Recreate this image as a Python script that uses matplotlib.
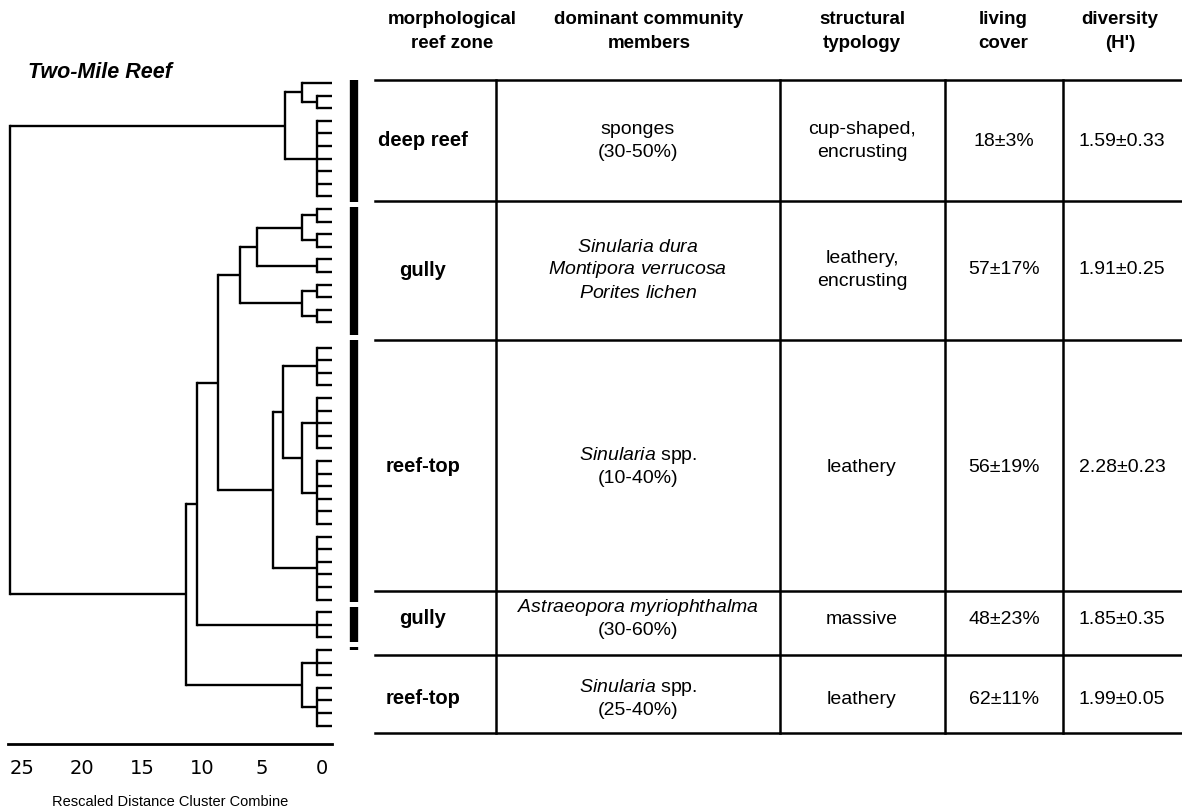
import matplotlib.pyplot as plt

plt.rcParams['font.family'] = ['Liberation Sans', 'DejaVu Sans']
plt.rcParams['mathtext.fontset'] = 'custom'
plt.rcParams['mathtext.it'] = 'Liberation Sans:italic'
plt.rcParams['mathtext.rm'] = 'Liberation Sans'

# ---- dendrogram data: leaves are row numbers, row 20 is empty ----
leaf_tip = -0.83
merges = {
    "a1": ([1, 2], 0.42),
    "a": ([0, "a1"], 1.67),
    "b": ([3, 4, 5, 6, 7, 8, 9], 0.42),
    "deep": (["a", "b"], 3.08),
    "c1": ([10, 11], 0.42),
    "c2": ([12, 13], 0.42),
    "c": (["c1", "c2"], 1.67),
    "c3": ([14, 15], 0.42),
    "cc": (["c", "c3"], 5.42),
    "d1": ([16, 17], 0.42),
    "d2": ([18, 19], 0.42),
    "d": (["d1", "d2"], 1.67),
    "gul": (["cc", "d"], 6.83),
    "e1": ([21, 22, 23, 24], 0.42),
    "e2": ([25, 26, 27, 28, 29], 0.42),
    "e3": ([30, 31, 32, 33, 34, 35], 0.42),
    "e23": (["e2", "e3"], 1.67),
    "e": (["e1", "e23"], 3.25),
    "f": ([36, 37, 38, 39, 40, 41], 0.42),
    "top": (["e", "f"], 4.08),
    "gt": (["gul", "top"], 8.67),
    "g": ([42, 43, 44], 0.42),
    "gtg": (["gt", "g"], 10.42),
    "h1": ([45, 46, 47], 0.42),
    "h2": ([48, 49, 50, 51], 0.42),
    "h": (["h1", "h2"], 1.67),
    "m": (["gtg", "h"], 11.33),
    "root": (["deep", "m"], 26.0),
}
# black group bars next to the leaves (row ranges)
group_bars = [(-0.25, 9.45), (9.85, 20.0), (20.4, 41.2), (41.6, 44.4), (44.75, 45.0)]
bar_pos = -2.7
dist_ticks = [25, 20, 15, 10, 5, 0]

# ---- table data ----
headers = ["morphological\nreef zone", "dominant community\nmembers",
           "structural\ntypology", "living\ncover", "diversity\n(H')"]
zones = ["deep reef", "gully", "reef-top", "gully", "reef-top"]
members = [
    ["sponges", "(30-50%)"],
    [r"$\it{Sinularia\ dura}$", r"$\it{Montipora\ verrucosa}$", r"$\it{Porites\ lichen}$"],
    [r"$\it{Sinularia}$ spp.", "(10-40%)"],
    [r"$\it{Astraeopora\ myriophthalma}$", "(30-60%)"],
    [r"$\it{Sinularia}$ spp.", "(25-40%)"],
]
typology = [["cup-shaped,", "encrusting"], ["leathery,", "encrusting"],
            ["leathery"], ["massive"], ["leathery"]]
cover = ["18±3%", "57±17%", "56±19%", "48±23%", "62±11%"]
diversity = ["1.59±0.33", "1.91±0.25", "2.28±0.23", "1.85±0.35", "1.99±0.05"]

# table layout (pixels)
row_lines = [80, 201, 340, 591, 655, 733]
col_lines = [496, 780, 945, 1063]
text_y = [141, 270, 467, 619, 699]
col_x = [423, 638, 862, 1004, 1122]
head_x = [452, 649, 862, 1003, 1120]

W, H = 1182, 811
fig = plt.figure(figsize=(W / 100, H / 100), dpi=100)

# -------------------------
# dendrogram
# -------------------------
ax = fig.add_axes([8 / W, 1 - 744 / H, 324 / W, 684 / H])
lw = 1.7


def draw(node):
    if isinstance(node, int):
        return node, leaf_tip
    kids, h = merges[node]
    ys = []
    for k in kids:
        y, x = draw(k)
        ax.plot([x, h], [y, y], color="black", lw=lw, solid_capstyle="butt")
        ys.append(y)
    ax.plot([h, h], [min(ys), max(ys)], color="black", lw=lw, solid_capstyle="projecting")
    return (min(ys) + max(ys)) / 2, h


draw("root")

for y0, y1 in group_bars:
    ax.plot([bar_pos, bar_pos], [y0, y1], color="black", lw=6, solid_capstyle="butt", clip_on=False)

ax.set_xlim(26.17, -0.833)
ax.set_ylim(52.46, -1.825)
for s in ["top", "left", "right"]:
    ax.spines[s].set_visible(False)
ax.spines["bottom"].set_linewidth(2)
ax.set_yticks([])
ax.set_xticks(dist_ticks)
ax.set_xticklabels([str(t) for t in dist_ticks], family="DejaVu Sans", fontsize=14)
ax.tick_params(axis="x", length=0, pad=11)
ax.set_xlabel("Rescaled Distance Cluster Combine", fontsize=10.5, labelpad=12)

fig.text(28 / W, 1 - 72 / H, "Two-Mile Reef", fontsize=15.5, fontweight="bold",
         fontstyle="italic", ha="left", va="center")

# -------------------------
# table
# -------------------------
tb = fig.add_axes([0, 0, 1, 1], facecolor="none")
tb.set_xlim(0, W)
tb.set_ylim(H, 0)
tb.axis("off")

for y in row_lines:
    tb.plot([375, W], [y, y], color="black", lw=1.8)
for x in col_lines:
    tb.plot([x, x], [row_lines[0], row_lines[-1]], color="black", lw=1.8)

for hx, ht in zip(head_x, headers):
    l1, l2 = ht.split("\n")
    tb.text(hx, 20, l1, ha="center", va="center", fontsize=13.5, fontweight="bold")
    tb.text(hx, 44, l2, ha="center", va="center", fontsize=13.5, fontweight="bold")

step = 23
for i in range(len(zones)):
    yc = text_y[i]
    tb.text(col_x[0], yc, zones[i], ha="center", va="center", fontsize=14.5, fontweight="bold")
    n = len(members[i])
    for j, line in enumerate(members[i]):
        tb.text(col_x[1], yc + (j - (n - 1) / 2) * step, line, ha="center", va="center", fontsize=14)
    n = len(typology[i])
    for j, line in enumerate(typology[i]):
        tb.text(col_x[2], yc + (j - (n - 1) / 2) * step, line, ha="center", va="center", fontsize=14)
    tb.text(col_x[3], yc, cover[i], ha="center", va="center", fontsize=14)
    tb.text(col_x[4], yc, diversity[i], ha="center", va="center", fontsize=14)

fig.savefig("out.png", dpi=100)
